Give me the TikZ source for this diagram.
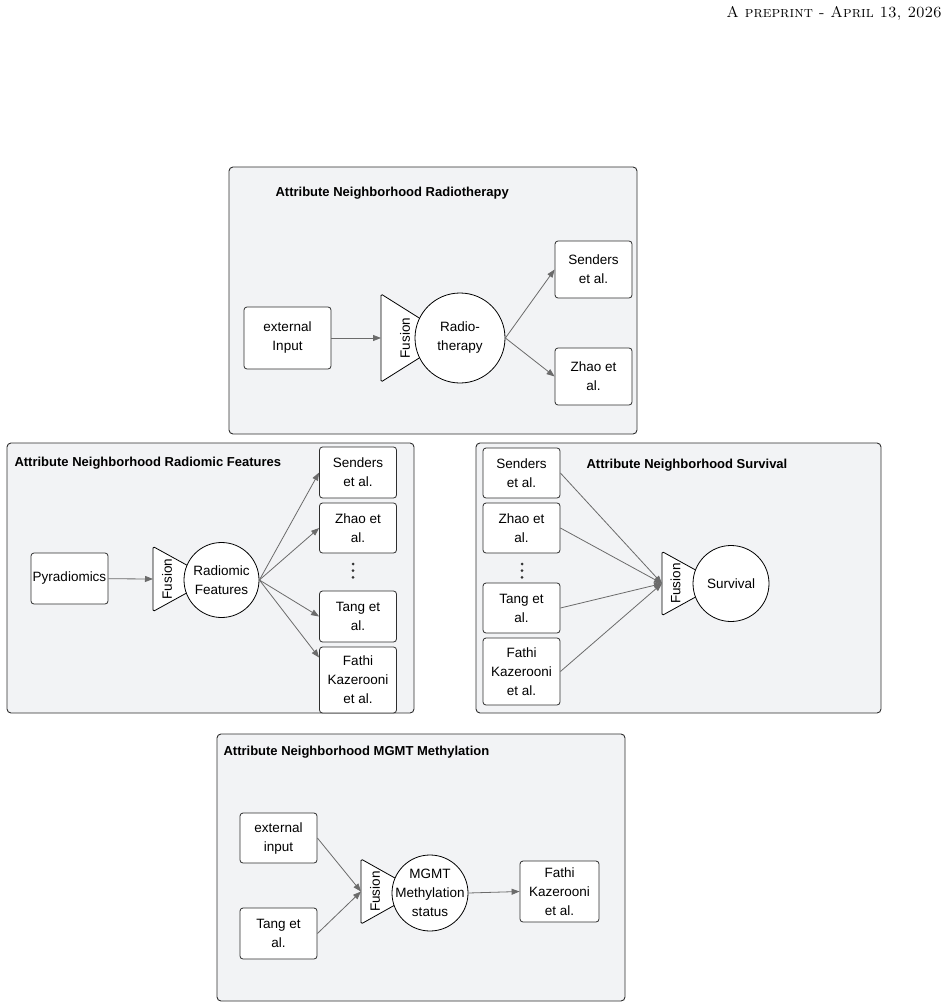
\documentclass[tikz,border=0pt]{standalone}
\usepackage{fontspec}
\setsansfont{Liberation Sans}
\usetikzlibrary{arrows.meta, positioning, calc}
\definecolor{panelbg}{HTML}{F2F3F5}
\definecolor{panelline}{HTML}{2E2E2E}
\definecolor{linkgray}{HTML}{6B6B6B}

\begin{document}
\begin{tikzpicture}[x=1pt, y=-1pt,
    panel/.style={draw=panelline, fill=panelbg, rounded corners=4pt, line width=0.9pt},
    ptitle/.style={anchor=west, font=\sffamily\bfseries\fontsize{13}{15}\selectfont},
    srcbox/.style={draw=panelline, fill=white, rounded corners=3pt, line width=0.8pt,
      align=center, inner sep=0pt, minimum width=77pt,
      font=\sffamily\fontsize{13.5}{19}\selectfont},
    attr/.style={circle, draw=black, fill=white, line width=0.8pt, align=center,
      inner sep=0pt, font=\sffamily\fontsize{13.5}{19}\selectfont},
    fusion/.style={draw=black, fill=white, line width=0.8pt, rounded corners=1.5pt},
    fuslbl/.style={rotate=90, inner sep=0pt, font=\sffamily\fontsize{13.5}{15}\selectfont},
    link/.style={draw=linkgray, line width=0.8pt, -{Triangle[length=8pt,width=6pt]}}]

  \useasboundingbox (0,0) rectangle (947,1008);

  % page header
  \node[anchor=base east, inner sep=0pt, font=\fontsize{15.5}{18}\selectfont] (hdr) at (942,18)
    {\textsc{A preprint - April 13, 2026}};

  % radiotherapy
  \draw[panel] (229,167) rectangle (637,434);
  \node[ptitle] (tRt) at (272,193) {Attribute Neighborhood Radiotherapy};
  \node[srcbox, minimum width=87pt, minimum height=62pt] (extRt) at (287.5,338) {external\\Input};
  \draw[fusion] (381,294) -- (451,338) -- (381,382) -- cycle;
  \coordinate (inRt) at (381,338);
  \node[fuslbl] (fusRt) at (405,338) {Fusion};
  \node[attr, minimum size=90pt] (rt) at (460,338) {Radio-\\therapy};
  \node[srcbox, minimum height=57pt] (sendRt) at (593.5,269.5) {Senders\\et al.};
  \node[srcbox, minimum height=57pt] (zhaoRt) at (593.5,376.5) {Zhao et\\al.};
  \draw[link] (extRt) -- (inRt);
  \draw[link] (rt.east) -- (sendRt.west);
  \draw[link] (rt.east) -- (zhaoRt.west);

  % radiomic features
  \draw[panel] (7,443) rectangle (414,713);
  \node[ptitle] (tRf) at (11,463) {Attribute Neighborhood Radiomic Features};
  \node[srcbox, minimum height=51pt] (pyrad) at (69.5,578.5) {Pyradiomics};
  \draw[fusion] (153,546.5) -- (212,579) -- (153,611.5) -- cycle;
  \coordinate (inRf) at (153,579);
  \node[fuslbl] (fusRf) at (167,579) {Fusion};
  \node[attr, minimum size=75pt] (rf) at (221.5,580) {Radiomic\\Features};
  \node[srcbox, minimum height=51pt] (sendRf) at (358,472.5) {Senders\\et al.};
  \node[srcbox, minimum height=50pt] (zhaoRf) at (358,528) {Zhao et\\al.};
  \foreach \k in {0,1,2}
    \fill[black!80] (353,564+\k*6.7) circle (1.5pt);
  \node[srcbox, minimum height=51pt] (tangRf) at (358,616.5) {Tang et\\al.};
  \node[srcbox, minimum height=66pt] (fathiRf) at (358,680) {Fathi\\Kazerooni\\et al.};
  \draw[link] (pyrad) -- (inRf);
  \draw[link] (rf.east) -- (sendRf.west);
  \draw[link] (rf.east) -- (zhaoRf.west);
  \draw[link] (rf.east) -- (tangRf.west);
  \draw[link] (rf.east) -- (fathiRf.150);

  % survival
  \draw[panel] (476,443) rectangle (881,713);
  \node[ptitle] (tSv) at (583,465) {Attribute Neighborhood Survival};
  \node[srcbox, minimum height=50pt] (sendSv) at (521.5,473) {Senders\\et al.};
  \node[srcbox, minimum height=50pt] (zhaoSv) at (521.5,528) {Zhao et\\al.};
  \foreach \k in {0,1,2}
    \fill[black!80] (522,564+\k*6.7) circle (1.5pt);
  \node[srcbox, minimum height=50pt] (tangSv) at (521.5,608) {Tang et\\al.};
  \node[srcbox, minimum height=67pt] (fathiSv) at (521.5,671.5) {Fathi\\Kazerooni\\et al.};
  \draw[fusion] (662,551.5) -- (720,583.5) -- (662,615.5) -- cycle;
  \coordinate (inSv) at (662,583.5);
  \node[fuslbl] (fusSv) at (675.5,583.5) {Fusion};
  \node[attr, minimum size=76pt] (sv) at (731,583.5) {Survival};
  \draw[link] (sendSv.east) -- (inSv);
  \draw[link] (zhaoSv.east) -- (inSv);
  \draw[link] (tangSv.east) -- (inSv);
  \draw[link] (fathiSv.east) -- (inSv);

  % mgmt methylation
  \draw[panel] (217,734) rectangle (625,1001);
  \node[ptitle] (tMg) at (220,752) {Attribute Neighborhood MGMT Methylation};
  \node[srcbox, minimum height=50pt] (extMg) at (278.5,838) {external\\input};
  \node[srcbox, minimum height=51pt] (tangMg) at (278.5,933.5) {Tang et\\al.};
  \draw[fusion] (361,859) -- (419,891.5) -- (361,924) -- cycle;
  \coordinate (inMg) at (361,891.5);
  \node[fuslbl] (fusMg) at (375,891.5) {Fusion};
  \node[attr, minimum size=76pt, inner sep=-12pt] (mg) at (430,893) {MGMT\\Methylation\\status};
  \node[srcbox, minimum width=79pt, minimum height=61pt] (fathiMg) at (559.5,891.5) {Fathi\\Kazerooni\\et al.};
  \draw[link] (extMg.east) -- (inMg);
  \draw[link] (tangMg.east) -- (inMg);
  \draw[link] (mg.east) -- (fathiMg.west);
\end{tikzpicture}
\end{document}
